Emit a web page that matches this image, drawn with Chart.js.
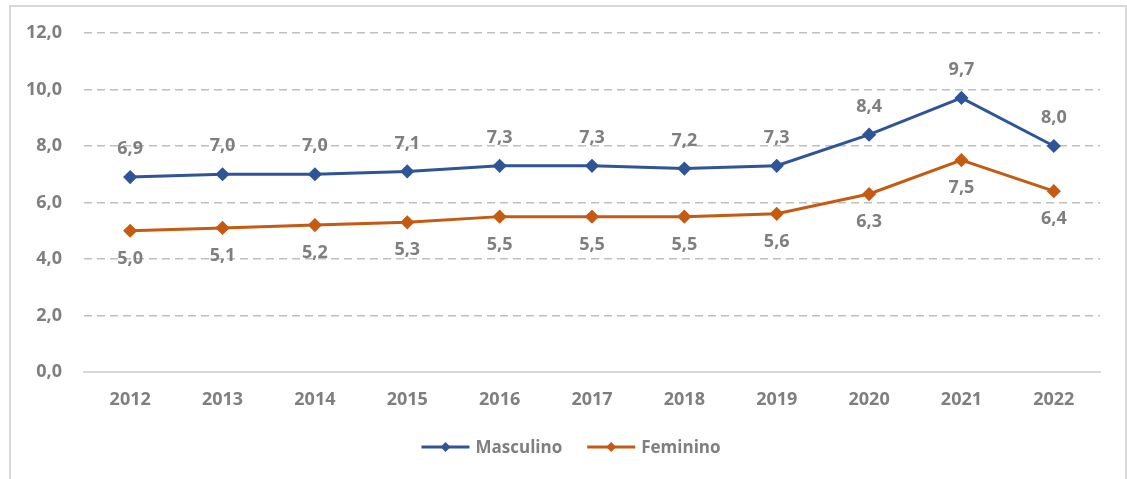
<!DOCTYPE html>
<html>
<head>
<meta charset="utf-8">
<script src="https://cdn.jsdelivr.net/npm/chart.js@4.4.1/dist/chart.umd.min.js"></script>
<style>
  html, body { margin: 0; padding: 0; background: #fff; }
  #wrap { width: 1127px; height: 479px; position: relative; }
</style>
</head>
<body>
<div id="wrap"><canvas id="chart" width="1127" height="479"></canvas></div>
<script>
const anos = ['2012', '2013', '2014', '2015', '2016', '2017', '2018', '2019', '2020', '2021', '2022'];
const masculino = [6.9, 7.0, 7.0, 7.1, 7.3, 7.3, 7.2, 7.3, 8.4, 9.7, 8.0];
const feminino = [5.0, 5.1, 5.2, 5.3, 5.5, 5.5, 5.5, 5.6, 6.3, 7.5, 6.4];
const yTicks = [0, 2, 4, 6, 8, 10, 12];

const AZUL = '#2F5597';
const LARANJA = '#C55A11';
const CINZA = '#7F7F7F';
const FONTE = '"Open Sans", "Liberation Sans", sans-serif';

const fmt = v => v.toFixed(1).replace('.', ',');

// moldura cinza clara em volta do grafico
const moldura = {
    id: 'moldura',
    beforeDraw(chart) {
        const ctx = chart.ctx;
        ctx.save();
        ctx.strokeStyle = '#D9D9D9';
        ctx.lineWidth = 2;
        ctx.strokeRect(10, 6, 1116, 520);
        ctx.restore();
    }
};

// rotulos de valor: masculino acima, feminino abaixo
const rotulos = {
    id: 'rotulos',
    afterDatasetsDraw(chart) {
        const ctx = chart.ctx;
        ctx.save();
        ctx.font = 'bold 18px ' + FONTE;
        ctx.fillStyle = CINZA;
        ctx.textAlign = 'center';
        ctx.textBaseline = 'middle';
        chart.data.datasets.forEach((ds, i) => {
            const meta = chart.getDatasetMeta(i);
            const dy = i === 0 ? -28 : 28;
            meta.data.forEach((pt, j) => {
                ctx.fillText(fmt(ds.data[j]), pt.x, pt.y + dy);
            });
        });
        ctx.restore();
    }
};

// legenda desenhada a mao (linha com losango + texto)
const legenda = {
    id: 'legenda',
    afterDraw(chart) {
        const ctx = chart.ctx;
        ctx.save();
        ctx.font = 'bold 17px ' + FONTE;
        const linha = 48, gapTxt = 6, gapItem = 25;
        const itens = chart.data.datasets.map(ds => ({
            txt: ds.label, cor: ds.borderColor, w: linha + gapTxt + ctx.measureText(ds.label).width
        }));
        const total = itens.reduce((s, it) => s + it.w, 0) + gapItem * (itens.length - 1);
        let x = 571 - total / 2;
        const y = 447;
        itens.forEach(it => {
            ctx.strokeStyle = it.cor;
            ctx.lineWidth = 3;
            ctx.beginPath();
            ctx.moveTo(x, y);
            ctx.lineTo(x + linha, y);
            ctx.stroke();
            const cx = x + linha / 2, r = 5;
            ctx.fillStyle = it.cor;
            ctx.beginPath();
            ctx.moveTo(cx, y - r);
            ctx.lineTo(cx + r, y);
            ctx.lineTo(cx, y + r);
            ctx.lineTo(cx - r, y);
            ctx.closePath();
            ctx.fill();
            ctx.fillStyle = CINZA;
            ctx.textAlign = 'left';
            ctx.textBaseline = 'middle';
            ctx.fillText(it.txt, x + linha + gapTxt, y + 1);
            x += it.w + gapItem;
        });
        ctx.restore();
    }
};

new Chart(document.getElementById('chart').getContext('2d'), {
    type: 'line',
    data: {
        labels: anos,
        datasets: [
            {
                label: 'Masculino',
                data: masculino,
                borderColor: AZUL,
                backgroundColor: AZUL,
                borderWidth: 3,
                pointStyle: 'rectRot',
                pointRadius: 5,
                pointHoverRadius: 5,
                tension: 0
            },
            {
                label: 'Feminino',
                data: feminino,
                borderColor: LARANJA,
                backgroundColor: LARANJA,
                borderWidth: 3,
                pointStyle: 'rectRot',
                pointRadius: 5,
                pointHoverRadius: 5,
                tension: 0
            }
        ]
    },
    options: {
        responsive: false,
        animation: false,
        layout: { padding: { top: 33, right: 27, bottom: 57, left: 0 } },
        plugins: {
            legend: { display: false },
            tooltip: { enabled: false }
        },
        scales: {
            x: {
                offset: true,
                grid: { display: false, drawTicks: false, offset: true },
                border: { display: true, color: '#D9D9D9', width: 2 },
                ticks: {
                    color: CINZA,
                    padding: 17,
                    font: { family: FONTE, size: 18, weight: 'bold' }
                },
                afterFit(scale) { scale.height = 50; }
            },
            y: {
                min: 0,
                max: 12,
                afterBuildTicks(scale) { scale.ticks = yTicks.map(v => ({ value: v })); },
                grid: {
                    drawTicks: false,
                    lineWidth: 1.5,
                    color: ctx => ctx.tick && ctx.tick.value === 0 ? 'rgba(0,0,0,0)' : '#BFBFBF'
                },
                border: { display: false, dash: [8, 5] },
                ticks: {
                    color: CINZA,
                    padding: 22,
                    font: { family: FONTE, size: 18, weight: 'bold' },
                    callback: v => fmt(v)
                },
                afterFit(scale) { scale.width = 84; }
            }
        }
    },
    plugins: [moldura, rotulos, legenda]
});
</script>
</body>
</html>
